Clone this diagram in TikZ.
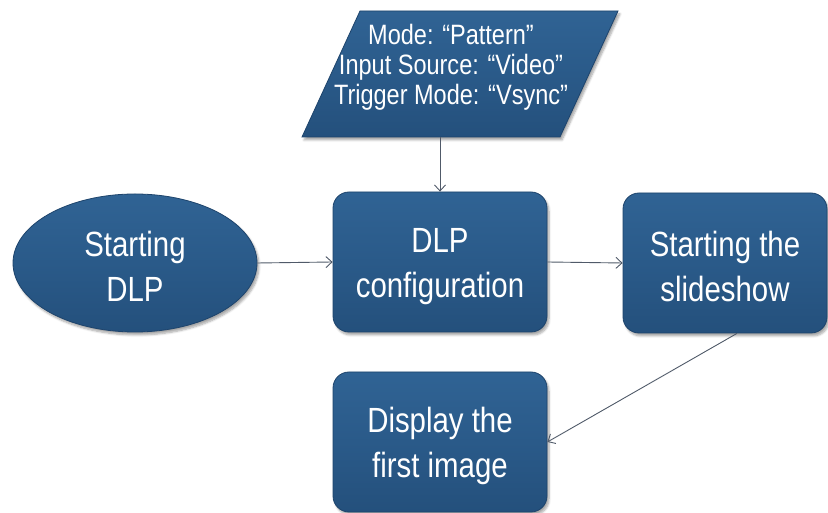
\documentclass[tikz,border=0pt]{standalone}
\usepackage{fontspec}
\setmainfont{Liberation Sans}[FakeStretch=0.84]
\usetikzlibrary{arrows.meta,shapes.geometric,shadows.blur}

\definecolor{boxblue}{RGB}{42,90,137}
\definecolor{boxtop}{RGB}{48,99,148}
\definecolor{boxbot}{RGB}{36,80,124}
\definecolor{boxedge}{RGB}{30,68,108}
\definecolor{linkgray}{RGB}{80,90,105}

% taller first line pushes the two-line labels a little lower
\newcommand{\toppad}{\rule{0pt}{33pt}}

\tikzset{
  fillstyle/.style={
    top color=boxtop, bottom color=boxbot, middle color=boxblue,
    draw=boxedge, line width=0.8pt,
    blur shadow={shadow xshift=2pt, shadow yshift=-3pt, shadow blur steps=6, shadow opacity=35}
  },
  flowshape/.style={fillstyle, text=white, align=center,
    font=\fontsize{35}{45}\selectfont},
  stepbox/.style={flowshape, rectangle, rounded corners=16pt,
    minimum width=214pt, minimum height=140pt, inner sep=0pt},
  startoval/.style={flowshape, ellipse, minimum width=244pt, minimum height=138pt, inner sep=0pt},
  datatext/.style={text=white, align=center, inner sep=0pt,
    font=\fontsize{28}{30}\selectfont},
  link/.style={draw=linkgray, line width=0.9pt, -{Straight Barb[length=6pt,width=11pt]}}
}

\begin{document}
\begin{tikzpicture}[x=1pt,y=1pt]
  \useasboundingbox (0,0) rectangle (828,513);

  % parameters fed into the configuration step (parallelogram)
  \coordinate (pbl) at (302,376);
  \coordinate (pbr) at (560,376);
  \coordinate (ptr) at (618,502);
  \coordinate (ptl) at (360,502);
  \path[fillstyle] (pbl) -- (pbr) -- (ptr) -- (ptl) -- cycle;
  \node[datatext] (partext) at (451,446)
    {Mode: “Pattern”\\Input Source: “Video”\\Trigger Mode: “Vsync”};

  % process steps
  \node[startoval] (start) at (135,250) {\toppad Starting\\DLP};
  \node[stepbox] (cfg) at (440,251) {\toppad DLP\\configuration};
  \node[stepbox, minimum width=204pt] (slide) at (725,250) {\toppad Starting the\\slideshow};
  \node[stepbox] (disp) at (440,71) {\toppad Display the\\first image};

  % connectors
  \draw[link] (pbl -| cfg.north) -- (cfg.north);
  \draw[link] (start.east) -- (cfg.west);
  \draw[link] (cfg.east) -- (slide.west);
  \draw[link] ([xshift=12pt]slide.south) -- (disp.east);
\end{tikzpicture}
\end{document}
